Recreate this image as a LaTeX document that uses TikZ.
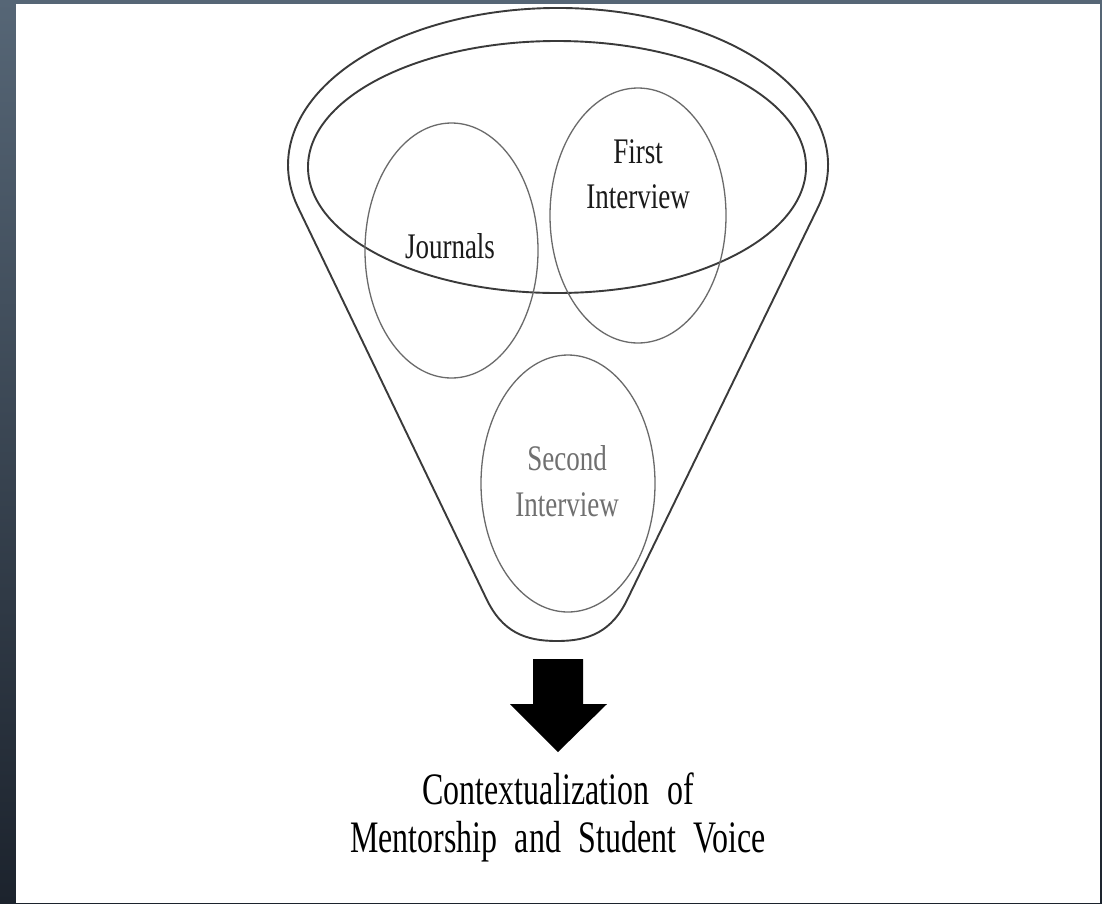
\documentclass[tikz,border=0pt]{standalone}
\usepackage{fontspec}
\setmainfont{Liberation Serif}
\newfontfamily\condfont[FakeStretch=0.75]{Liberation Serif}
\newfontfamily\resultfont[FakeStretch=0.71,WordSpace=2.2]{Liberation Serif}
\usetikzlibrary{shapes.geometric}
\definecolor{bgtop}{HTML}{566676}
\definecolor{bgbot}{HTML}{1C232D}
\definecolor{funnelline}{HTML}{3A3A3A}
\definecolor{circline}{HTML}{6A6A6A}
\definecolor{labeltext}{HTML}{1A1A1A}
\definecolor{greytext}{HTML}{707070}
\tikzset{
  funnelstroke/.style={draw=funnelline, line width=1.9pt},
  circnode/.style={ellipse, draw=circline, line width=1.3pt, inner sep=0pt, outer sep=0pt},
  circlabel/.style={inner sep=0pt, anchor=base, text=labeltext, font=\condfont\fontsize{36}{40}\selectfont},
  greylabel/.style={circlabel, text=greytext},
  resultlabel/.style={inner sep=0pt, anchor=base, text=black, font=\resultfont\fontsize{45}{50}\selectfont}
}
\begin{document}
\begin{tikzpicture}[x=1pt,y=1pt]
\useasboundingbox (0,0) rectangle (1102,-903);
\shade[top color=bgtop, bottom color=bgbot] (0,0) rectangle (1102,-903);
\fill[white] (16,-4) rectangle (1100,-903);

% funnel outline
\draw[funnelstroke]
  (558,-165) ++(-15.4:270 and 157) coordinate (fr)
  arc[start angle=-15.4, end angle=195.4, x radius=270, y radius=157] coordinate (fl)
  -- (486,-598)
  .. controls (502,-632) and (525,-641) .. (557,-641)
  .. controls (589,-641) and (612,-632) .. (628,-598)
  -- cycle;

% inner rim ellipse
\draw[funnelstroke] (557,-167) ellipse[x radius=249, y radius=126];

% circles
\node[circnode, minimum width=173, minimum height=255] (journals) at (451.5,-250.5) {};
\node[circnode, minimum width=176, minimum height=255] (first) at (638,-215.5) {};
\node[circnode, minimum width=174, minimum height=257] (second) at (568,-483.5) {};

% labels
\node[circlabel] (jtext) at (450,-258) {Journals};
\node[circlabel] (ftext1) at (638,-163) {First};
\node[circlabel] (ftext2) at (638,-208) {Interview};
\node[greylabel] (stext1) at (567,-470) {Second};
\node[greylabel] (stext2) at (567,-516) {Interview};

% arrow
\fill[black] (533,-659) -- (583,-659) -- (583,-704) -- (607,-704) -- (558,-752)
  -- (510,-704) -- (533,-704) -- cycle;

% result text
\node[resultlabel] (res1) at (558,-804) {Contextualization of};
\node[resultlabel] (res2) at (558,-852) {Mentorship and Student Voice};
\end{tikzpicture}
\end{document}
